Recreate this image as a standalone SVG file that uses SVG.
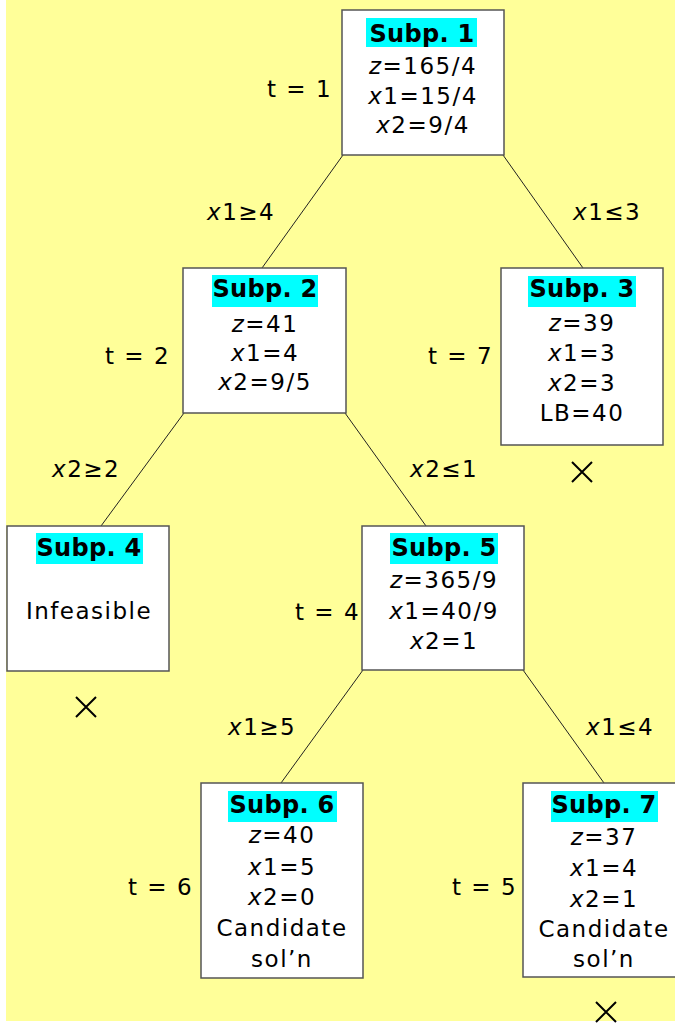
<svg xmlns="http://www.w3.org/2000/svg" width="675" height="1023" viewBox="0 0 675 1023">
<style>
.box{fill:#fff;stroke:#555;stroke-width:1.5}
.hl{fill:#00ffff}
text{font-family:"DejaVu Sans","Verdana",sans-serif;font-size:23px;fill:#000;letter-spacing:1.5px}
.c{text-anchor:middle}
.h{font-weight:bold;font-size:24px;letter-spacing:0.3px}
.i{font-style:italic}
.edge{stroke:#222;stroke-width:1;fill:none}
.x{stroke:#000;stroke-width:2;fill:none}
</style>
<rect x="6" y="0" width="669" height="1021" fill="#ffff99"/>
<g id="connectors">
<line class="edge" x1="343" y1="155" x2="262" y2="268"/>
<line class="edge" x1="503" y1="155" x2="583" y2="268"/>
<line class="edge" x1="184" y1="413" x2="101" y2="526"/>
<line class="edge" x1="345" y1="413" x2="426" y2="526"/>
<line class="edge" x1="363" y1="670" x2="281" y2="783"/>
<line class="edge" x1="523" y1="670" x2="604" y2="783"/>
</g>
<g id="labels">
<text x="267" y="97">t = 1</text>
<text x="207" y="220"><tspan class="i">x</tspan>1≥4</text>
<text x="573" y="220"><tspan class="i">x</tspan>1≤3</text>
<text x="105" y="364">t = 2</text>
<text x="428" y="364">t = 7</text>
<text x="52" y="477"><tspan class="i">x</tspan>2≥2</text>
<text x="410" y="477"><tspan class="i">x</tspan>2≤1</text>
<text x="295" y="620">t = 4</text>
<text x="228" y="735"><tspan class="i">x</tspan>1≥5</text>
<text x="586" y="735"><tspan class="i">x</tspan>1≤4</text>
<text x="128" y="895">t = 6</text>
<text x="452" y="895">t = 5</text>
</g>
<g id="subp1">
<rect class="box" x="342" y="10" width="162" height="145"/>
<rect class="hl" x="366" y="18" width="111" height="29"/>
<text class="c h" x="422" y="42">Subp. 1</text>
<text class="c" x="423" y="74"><tspan class="i">z</tspan>=165/4</text>
<text class="c" x="423" y="104"><tspan class="i">x</tspan>1=15/4</text>
<text class="c" x="423" y="133"><tspan class="i">x</tspan>2=9/4</text>
</g>
<g id="subp2">
<rect class="box" x="183" y="268" width="163" height="145"/>
<rect class="hl" x="212" y="275" width="106" height="32"/>
<text class="c h" x="265" y="297">Subp. 2</text>
<text class="c" x="265" y="332"><tspan class="i">z</tspan>=41</text>
<text class="c" x="265" y="361"><tspan class="i">x</tspan>1=4</text>
<text class="c" x="265" y="390"><tspan class="i">x</tspan>2=9/5</text>
</g>
<g id="subp3">
<rect class="box" x="501" y="268" width="162" height="177"/>
<rect class="hl" x="528" y="276" width="108" height="31"/>
<text class="c h" x="582" y="297">Subp. 3</text>
<text class="c" x="582" y="331"><tspan class="i">z</tspan>=39</text>
<text class="c" x="582" y="361"><tspan class="i">x</tspan>1=3</text>
<text class="c" x="582" y="391"><tspan class="i">x</tspan>2=3</text>
<text class="c" x="582" y="421">LB=40</text>
</g>
<g id="subp4">
<rect class="box" x="7" y="526" width="162" height="145"/>
<rect class="hl" x="36" y="533" width="107" height="31"/>
<text class="c h" x="89" y="556">Subp. 4</text>
<text class="c" x="89" y="619">Infeasible</text>
</g>
<g id="subp5">
<rect class="box" x="362" y="526" width="162" height="144"/>
<rect class="hl" x="390" y="533" width="108" height="31"/>
<text class="c h" x="444" y="556">Subp. 5</text>
<text class="c" x="444" y="588"><tspan class="i">z</tspan>=365/9</text>
<text class="c" x="444" y="619"><tspan class="i">x</tspan>1=40/9</text>
<text class="c" x="444" y="649"><tspan class="i">x</tspan>2=1</text>
</g>
<g id="subp6">
<rect class="box" x="201" y="783" width="162" height="195"/>
<rect class="hl" x="228" y="791" width="109" height="31"/>
<text class="c h" x="282" y="813">Subp. 6</text>
<text class="c" x="282" y="843"><tspan class="i">z</tspan>=40</text>
<text class="c" x="282" y="875"><tspan class="i">x</tspan>1=5</text>
<text class="c" x="282" y="905"><tspan class="i">x</tspan>2=0</text>
<text class="c" x="282" y="936">Candidate</text>
<text class="c" x="282" y="967">sol’n</text>
</g>
<g id="subp7">
<rect class="box" x="523" y="783" width="170" height="194"/>
<rect class="hl" x="551" y="791" width="107" height="31"/>
<text class="c h" x="604" y="813">Subp. 7</text>
<text class="c" x="604" y="845"><tspan class="i">z</tspan>=37</text>
<text class="c" x="604" y="876"><tspan class="i">x</tspan>1=4</text>
<text class="c" x="604" y="907"><tspan class="i">x</tspan>2=1</text>
<text class="c" x="604" y="937">Candidate</text>
<text class="c" x="604" y="967">sol’n</text>
</g>
<g id="marks">
<path class="x" d="M572 462L592 482M592 462L572 482"/>
<path class="x" d="M76 697L96 717M96 697L76 717"/>
<path class="x" d="M596 1002L616 1022M616 1002L596 1022"/>
</g>
</svg>
